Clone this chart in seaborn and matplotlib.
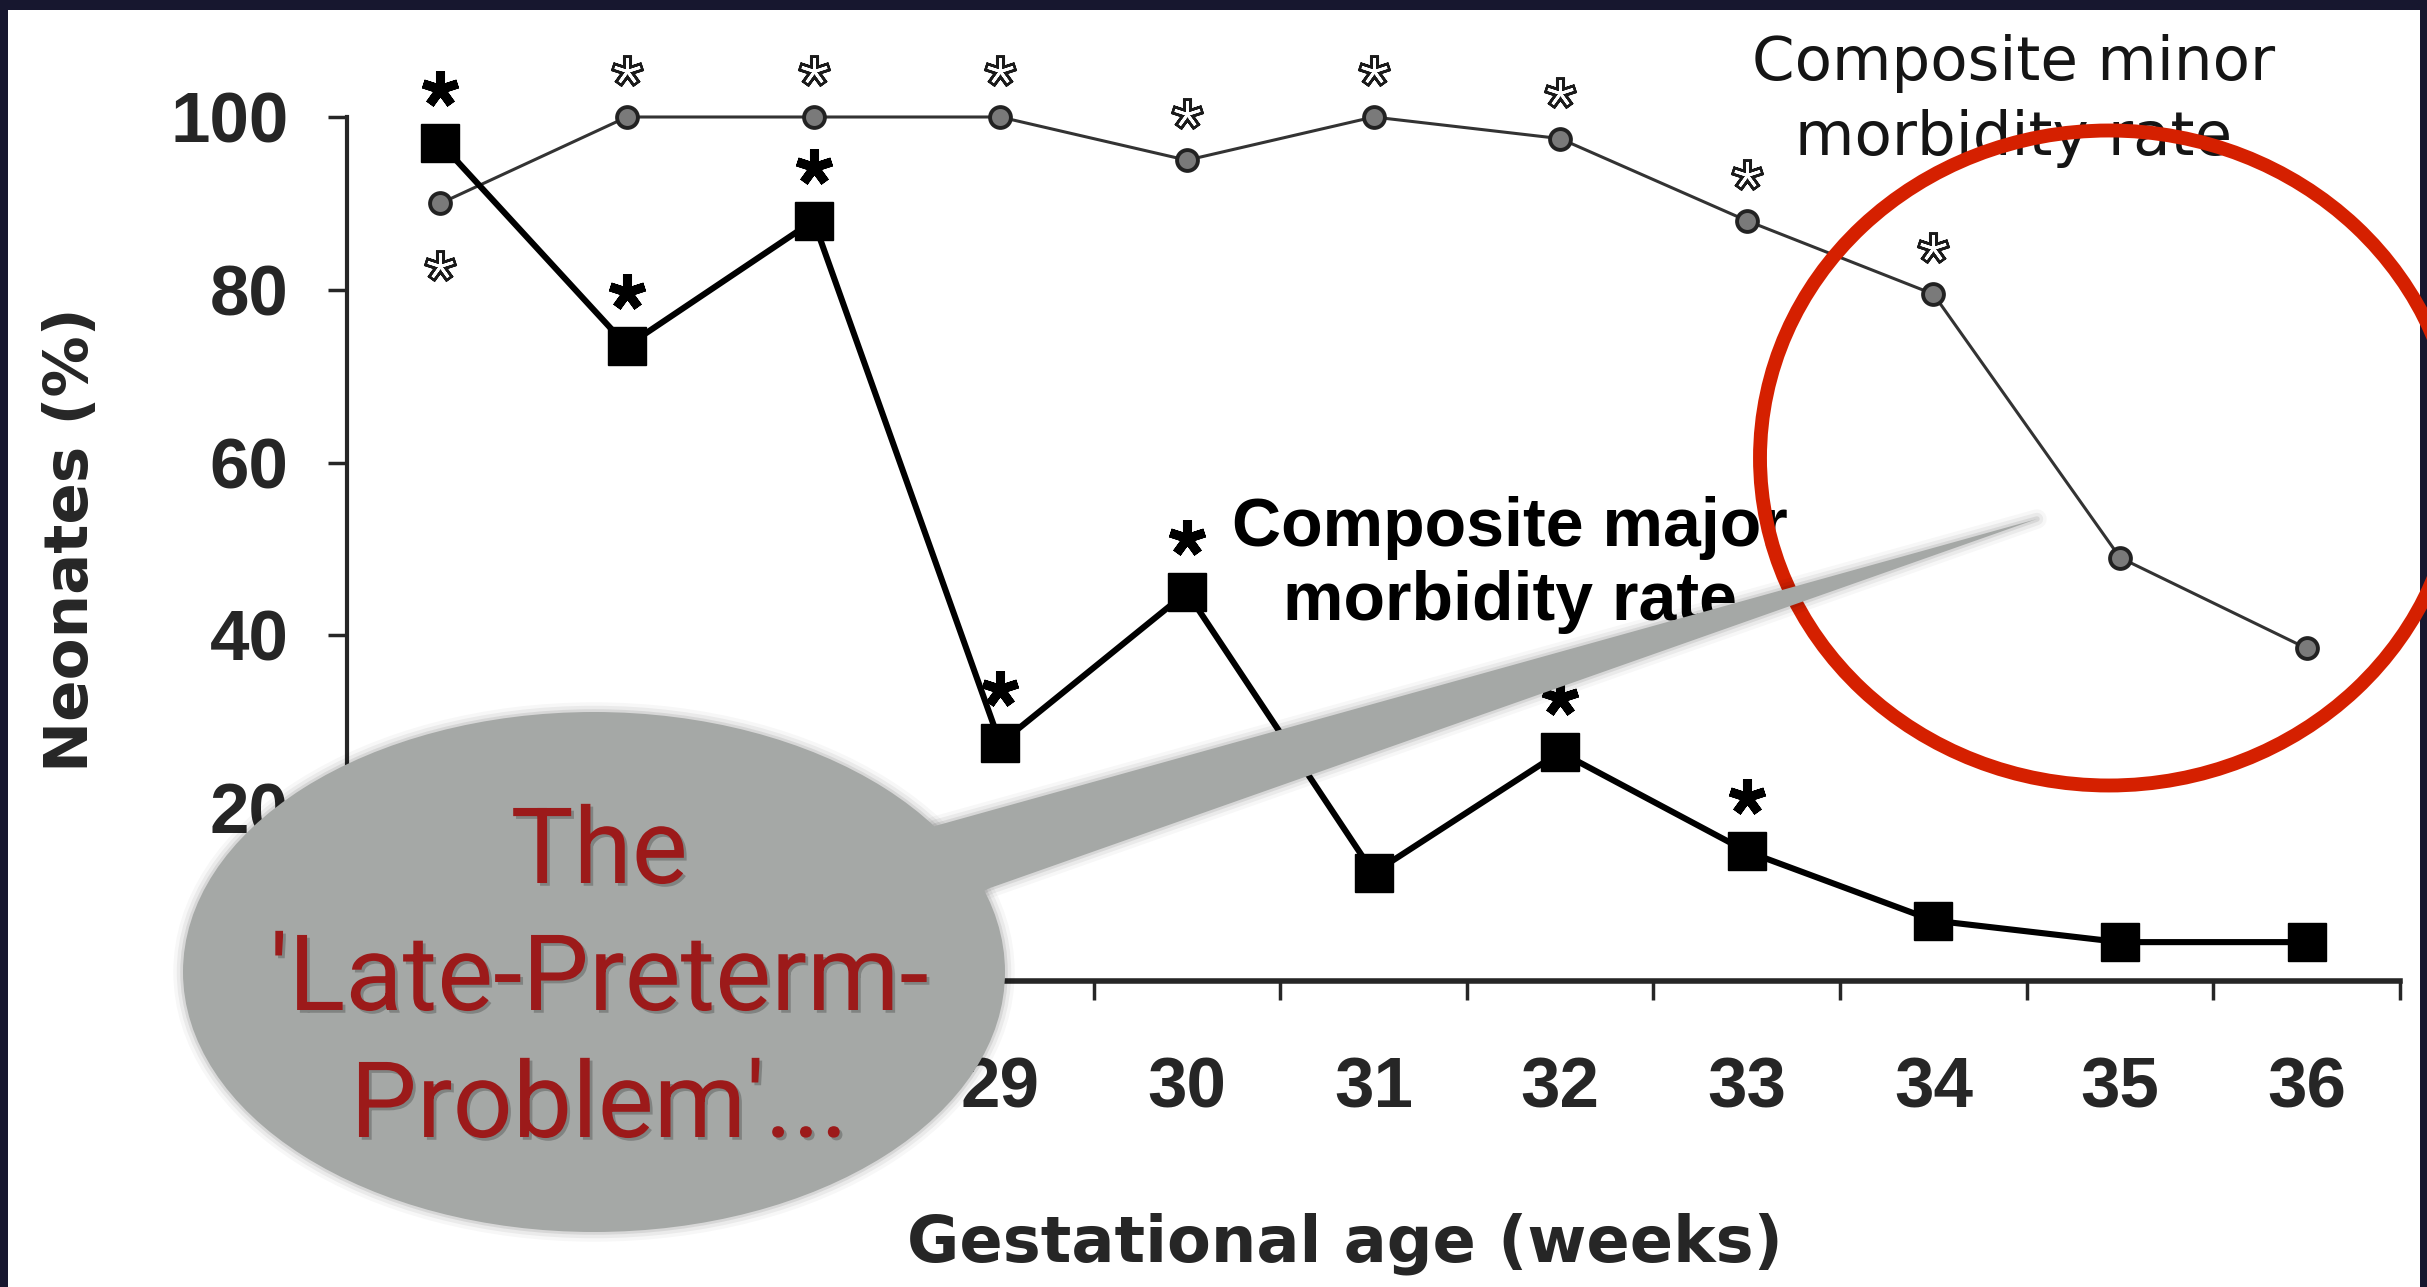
import matplotlib
matplotlib.use("Agg")
import matplotlib.pyplot as plt
import matplotlib.patches as mpatches
import matplotlib.patheffects as pe
import matplotlib.transforms as mtransforms
import pandas as pd
import seaborn as sns

# gestational age (weeks)
weeks = [26, 27, 28, 29, 30, 31, 32, 33, 34, 35, 36]
# composite major morbidity rate (%)
major_rate = [97, 73.5, 88, 27.5, 45, 12.5, 26.5, 15, 7, 4.5, 4.5]
# composite minor morbidity rate (%)
minor_rate = [90, 100, 100, 100, 95, 100, 97.5, 88, 79.5, 49, 38.5]

# weeks flagged with an asterisk
major_sig = [26, 27, 28, 29, 30, 32, 33]
minor_sig_above = [27, 28, 29, 30, 31, 32, 33, 34]
minor_sig_below = [26]

y_ticks = [0, 20, 40, 60, 80, 100]
# labels that sit under the speech bubble in the slide are left blank
y_ticklabels = ["", "20", "40", "60", "80", "100"]
x_ticklabels = ["", "", "", "29", "30", "31", "32", "33", "34", "35", "36"]

bubble_lines = ["The", "'Late-Preterm-", "Problem'..."]

W, H, DPI = 2427, 1287, 100


def plot_chart(save_path="out.png"):
    sns.set_style("ticks")
    plt.rcParams["font.family"] = ["Liberation Sans", "DejaVu Sans"]

    fig = plt.figure(figsize=(W / DPI, H / DPI), dpi=DPI, facecolor="#17172f")
    # pixel coordinates measured from the top-left corner of the image
    px = mtransforms.Affine2D().scale(1 / DPI, -1 / DPI).translate(0, H / DPI) + fig.dpi_scale_trans

    # white slide area inside the dark frame
    fig.add_artist(mpatches.Rectangle((8, 10), 2412, 1290, transform=px,
                                      facecolor="white", edgecolor="none", zorder=-10))

    ax = fig.add_axes([347 / W, (H - 981) / H, 2053 / W, 864 / H])
    ax.set_facecolor("none")

    df = pd.DataFrame({"week": weeks, "major": major_rate, "minor": minor_rate})

    sns.lineplot(data=df, x="week", y="minor", ax=ax, color="#333333", lw=2.2,
                 marker="o", ms=15, mfc="#7a7a7a", mec="#222222", mew=2.8,
                 clip_on=False, zorder=3)
    sns.lineplot(data=df, x="week", y="major", ax=ax, color="black", lw=4.4,
                 marker="s", ms=28, mfc="black", mec="black", mew=1,
                 clip_on=False, zorder=4)

    # significance asterisks
    up_major = mtransforms.offset_copy(ax.transData, fig=fig, y=39, units="points")
    up_minor = mtransforms.offset_copy(ax.transData, fig=fig, y=33, units="points")
    down_minor = mtransforms.offset_copy(ax.transData, fig=fig, y=-45, units="points")

    sel = df[df["week"].isin(major_sig)]
    ax.plot(sel["week"], sel["major"], transform=up_major, ls="none", marker=(5, 2, 0),
            ms=26, mew=6.5, color="black", clip_on=False, zorder=5)

    for subset, trans in [(df[df["week"].isin(minor_sig_above)], up_minor),
                          (df[df["week"].isin(minor_sig_below)], down_minor)]:
        ax.plot(subset["week"], subset["minor"], transform=trans, ls="none",
                marker=(5, 2, 0), ms=23, mew=6.5, color="#1a1a1a", clip_on=False, zorder=5)
        ax.plot(subset["week"], subset["minor"], transform=trans, ls="none",
                marker=(5, 2, 0), ms=19, mew=2, color="white", clip_on=False, zorder=6)

    ax.text(34.43, 101.8, "Composite minor\nmorbidity rate", ha="center", va="center",
            fontsize=44, family="DejaVu Sans", color="#151515", linespacing=1.35,
            clip_on=False)
    ax.text(31.73, 48.1, "Composite major\nmorbidity rate", ha="center", va="center",
            fontsize=49, fontweight="bold", color="black", linespacing=1.2)

    # axes
    ax.set_xlim(25.5, 36.5)
    ax.set_ylim(0, 100)
    ax.set_xticks(weeks)
    ax.set_xticklabels(x_ticklabels)
    ax.set_xticks([w - 0.5 for w in weeks] + [weeks[-1] + 0.5], minor=True)
    ax.set_yticks(y_ticks)
    ax.set_yticklabels(y_ticklabels)
    ax.tick_params(axis="x", which="major", length=0, pad=54, labelsize=51)
    ax.tick_params(axis="x", which="minor", length=14, width=2.5, direction="out")
    ax.tick_params(axis="y", which="major", length=14, width=2.5, pad=28,
                   labelsize=51, direction="out")
    for lab in ax.get_xticklabels() + ax.get_yticklabels():
        lab.set_fontweight("bold")

    sns.despine(ax=ax)
    ax.spines["left"].set_linewidth(3)
    ax.spines["bottom"].set_linewidth(4)
    ax.spines["left"].set_bounds(0, 100)
    ax.spines["bottom"].set_bounds(25.5, 36.5)

    ax.set_xlabel("Gestational age (weeks)", fontsize=46, fontweight="bold",
                  family="DejaVu Sans")
    ax.xaxis.set_label_coords(0.486, -0.325)
    ax.xaxis.label.set_va("baseline")
    ax.set_ylabel("Neonates (%)", fontsize=44, fontweight="bold", family="DejaVu Sans")
    ax.yaxis.set_label_coords(-0.134, 0.511)
    ax.yaxis.label.set_va("center")

    # red highlight circle
    fig.add_artist(mpatches.Ellipse((2109, 458), 698, 655, transform=px, fill=False,
                                    edgecolor="#d52000", lw=10, zorder=4))

    # speech bubble with soft shadow
    bubble_col = "#a5a8a6"
    ell_xy, ell_w, ell_h = (594, 972), 822, 520
    tail = [(935, 826), (2037, 519), (990, 888), (800, 980)]
    shadow = [pe.Stroke(linewidth=14, foreground="black", alpha=0.03, joinstyle="round"),
              pe.Stroke(linewidth=9, foreground="black", alpha=0.05, joinstyle="round"),
              pe.Stroke(linewidth=4, foreground="black", alpha=0.08, joinstyle="round")]
    for zo, effects, fc in [(5, shadow, "none"), (6, None, bubble_col)]:
        e = mpatches.Ellipse(ell_xy, ell_w, ell_h, transform=px, facecolor=fc,
                             edgecolor="none", zorder=zo)
        t = mpatches.Polygon(tail, closed=True, transform=px, facecolor=fc,
                             edgecolor="none", zorder=zo)
        if effects:
            e.set_edgecolor("black")
            t.set_edgecolor("black")
            e.set_path_effects(effects)
            t.set_path_effects(effects)
        fig.add_artist(e)
        fig.add_artist(t)

    # one text per line, baselines 127 px apart
    for i, line in enumerate(bubble_lines):
        fig.text(599, 883 + 127 * i, line, transform=px,
                 ha="center", va="baseline", fontsize=76, color="#9c1a1a",
                 family=["Roboto", "DejaVu Sans"], fontweight="normal", zorder=12,
                 path_effects=[pe.withSimplePatchShadow(offset=(2, -2),
                                                        shadow_rgbFace="black",
                                                        alpha=0.22)])

    fig.savefig(save_path, dpi=DPI, facecolor=fig.get_facecolor())
    plt.close(fig)


if __name__ == "__main__":
    plot_chart("out.png")
